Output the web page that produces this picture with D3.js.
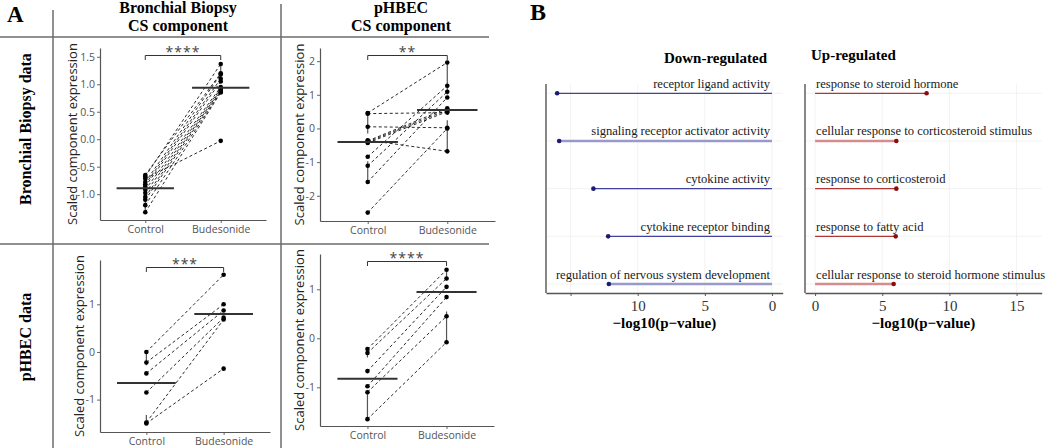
<!DOCTYPE html>
<html>
<head>
<meta charset="utf-8">
<script src="https://cdn.jsdelivr.net/npm/d3@7"></script>
<style>
  body { margin: 0; background: #fff; }
  svg { display: block; }
</style>
</head>
<body>
<script>
// ---------- data ----------
const groups = ["Control", "Budesonide"];

// panel A: paired samples, index i of control pairs with index i of budesonide
const bbBbControl = [-0.65, -0.68, -0.72, -0.78, -0.82, -0.86, -0.92, -0.98, -1.05, -1.10, -1.20, -1.33];
const bbBbBudesonide = [1.20, 1.37, -0.03, 1.18, 1.10, 1.05, 0.95, 0.92, 0.90, 0.88, 0.86, 0.85];

const bbPhControl = [0.46, 0.44, 0.05, -0.35, -0.37, -0.40, -0.43, -0.84, -1.11, -1.59, -2.50];
const bbPhBudesonide = [1.96, 0.47, 0.02, -0.68, 0.60, 0.55, 0.50, 1.27, 1.09, 0.92, 0.00];

const phBbControl = [0.00, -0.22, -0.45, -0.85, -1.48, -1.50];
const phBbBudesonide = [1.62, 1.00, 0.87, 0.72, 0.68, -0.35];

const phPhControl = [-0.22, -0.30, -0.67, -0.98, -1.10, -1.65];
const phPhBudesonide = [1.40, 1.22, 1.05, 0.84, 0.45, -0.08];

const significance = ["****", "**", "***", "****"];

const ticksBbBb = [-1.0, -0.5, 0.0, 0.5, 1.0, 1.5];
const ticksBbPh = [-2, -1, 0, 1, 2];
const ticksPhBb = [-1, 0, 1];
const ticksPhPh = [-1, 0, 1];

const columnTitles = [["Bronchial Biopsy", "CS component"], ["pHBEC", "CS component"]];
const rowTitles = ["Bronchial Biopsy data", "pHBEC data"];

// panel B: GO enrichment
const downTerms = ["receptor ligand activity", "signaling receptor activator activity",
  "cytokine activity", "cytokine receptor binding", "regulation of nervous system development"];
const downValues = [16.0, 15.85, 13.3, 12.2, 12.15];
const downWeight = [1, 2, 1, 1, 2];

const upTerms = ["response to steroid hormone", "cellular response to corticosteroid stimulus",
  "response to corticosteroid", "response to fatty acid", "cellular response to steroid hormone stimulus"];
const upValues = [8.3, 6.05, 6.05, 6.0, 5.85];
const upWeight = [1, 2, 1, 1, 2];

const bTicksDown = [15, 10, 5, 0];
const bTicksUp = [0, 5, 10, 15];

// ---------- drawing ----------
const W = 1050, H = 448;
const SERIF = "'Liberation Serif', 'Times New Roman', serif";
const SANS = "'Open Sans', 'Noto Sans', sans-serif";

const svg = d3.select("body").append("svg")
  .attr("width", W).attr("height", H);

// frame of panel A
const frame = svg.append("g").attr("stroke", "#6b6b6b").attr("stroke-width", 1.5);
frame.append("line").attr("x1", 53).attr("x2", 53).attr("y1", 10).attr("y2", H);
frame.append("line").attr("x1", 281).attr("x2", 281).attr("y1", 4).attr("y2", H);
frame.append("line").attr("x1", 0).attr("x2", 489).attr("y1", 37).attr("y2", 37);
frame.append("line").attr("x1", 0).attr("x2", 489).attr("y1", 244).attr("y2", 244);

svg.append("text").attr("x", 7).attr("y", 22)
  .style("font-family", SERIF).style("font-weight", "bold").style("font-size", "23px")
  .text("A");
svg.append("text").attr("x", 530).attr("y", 20)
  .style("font-family", SERIF).style("font-weight", "bold").style("font-size", "24px")
  .text("B");

const colCenters = [178, 401];
columnTitles.forEach((lines, i) => {
  lines.forEach((t, j) => {
    svg.append("text")
      .attr("x", colCenters[i]).attr("y", j === 0 ? 13 : 31)
      .attr("text-anchor", "middle")
      .style("font-family", SERIF).style("font-weight", "bold").style("font-size", "16px")
      .text(t);
  });
});

const rowCenters = [129, 337];
rowTitles.forEach((t, i) => {
  svg.append("text")
    .attr("transform", `translate(31,${rowCenters[i]}) rotate(-90)`)
    .attr("text-anchor", "middle")
    .style("font-family", SERIF).style("font-weight", "bold").style("font-size", "16px")
    .text(t);
});

function styleAxis(sel) {
  sel.select(".domain").attr("stroke", "#555").attr("stroke-width", 1.2);
  sel.selectAll(".tick line").attr("stroke", "#555").attr("stroke-width", 0.9);
  sel.selectAll(".tick text")
    .attr("fill", "#555").style("font-family", SANS).style("font-size", "10.5px");
}

function whiskers(values) {
  const s = values.slice().sort(d3.ascending);
  const q1 = d3.quantileSorted(s, 0.25), q3 = d3.quantileSorted(s, 0.75);
  const iqr = q3 - q1;
  const lo = d3.min(s.filter(v => v >= q1 - 1.5 * iqr));
  const hi = d3.max(s.filter(v => v <= q3 + 1.5 * iqr));
  return [[q3, hi], [q1, lo]];
}

function pairedPanel(cfg) {
  const { left, right, top, bottom, domain, ticks, fmt, ctrl, bud, stars, labelX } = cfg;
  const x = d3.scalePoint().domain(groups).range([left, right]).padding(0.6);
  const y = d3.scaleLinear().domain(domain).range([bottom, top]);
  const g = svg.append("g");

  g.append("g").attr("transform", `translate(${left},0)`)
    .call(d3.axisLeft(y).tickValues(ticks).tickFormat(fmt).tickSize(3).tickSizeOuter(0).tickPadding(2))
    .call(styleAxis);
  g.append("g").attr("transform", `translate(0,${bottom})`)
    .call(d3.axisBottom(x).tickSize(3).tickSizeOuter(0).tickPadding(3))
    .call(styleAxis);

  g.append("text")
    .attr("transform", `translate(${labelX},${(top + bottom) / 2}) rotate(-90)`)
    .attr("text-anchor", "middle")
    .style("font-family", SANS).style("font-size", "13px").attr("fill", "#222")
    .text("Scaled component expression");

  // boxplot whiskers (box itself is invisible)
  [ctrl, bud].forEach((vals, k) => {
    whiskers(vals).forEach(([a, b]) => {
      g.append("line")
        .attr("x1", x(groups[k])).attr("x2", x(groups[k]))
        .attr("y1", y(a)).attr("y2", y(b))
        .attr("stroke", "#555").attr("stroke-width", 1.2);
    });
  });

  // paired dashed lines
  g.selectAll(".pair").data(d3.range(ctrl.length)).join("line")
    .attr("x1", x(groups[0])).attr("y1", i => y(ctrl[i]))
    .attr("x2", x(groups[1])).attr("y2", i => y(bud[i]))
    .attr("stroke", "#111").attr("stroke-width", 0.9).attr("stroke-dasharray", "3,2.5");

  // points
  [ctrl, bud].forEach((vals, k) => {
    g.selectAll(null).data(vals).join("circle")
      .attr("cx", x(groups[k])).attr("cy", d => y(d)).attr("r", 2.3).attr("fill", "#000");
  });

  // median bars
  const hw = x.step() * 0.38;
  [ctrl, bud].forEach((vals, k) => {
    const m = d3.median(vals);
    g.append("line")
      .attr("x1", x(groups[k]) - hw).attr("x2", x(groups[k]) + hw)
      .attr("y1", y(m)).attr("y2", y(m))
      .attr("stroke", "#333").attr("stroke-width", 2);
  });

  // significance bracket
  const yb = top + 7.5;
  g.append("path")
    .attr("d", `M${x(groups[0])},${yb + 4.5}V${yb}H${x(groups[1])}V${yb + 4.5}`)
    .attr("fill", "none").attr("stroke", "#333").attr("stroke-width", 1);
  g.append("text")
    .attr("x", (x(groups[0]) + x(groups[1])) / 2).attr("y", yb + 1.5)
    .attr("text-anchor", "middle")
    .style("font-family", SANS).style("font-size", "14px").style("letter-spacing", "1px")
    .attr("fill", "#444")
    .text(stars);
}

const fmt1 = d => d.toFixed(1);
const fmt0 = d => d.toFixed(0);

pairedPanel({ left: 100, right: 266, top: 48, bottom: 220, domain: [-1.47, 1.66],
  ticks: ticksBbBb, fmt: fmt1, ctrl: bbBbControl, bud: bbBbBudesonide, stars: significance[0], labelX: 77 });
pairedPanel({ left: 320, right: 495, top: 48, bottom: 221, domain: [-2.75, 2.39],
  ticks: ticksBbPh, fmt: fmt0, ctrl: bbPhControl, bud: bbPhBudesonide, stars: significance[1], labelX: 304 });
pairedPanel({ left: 100, right: 270, top: 260, bottom: 432, domain: [-1.68, 1.93],
  ticks: ticksPhBb, fmt: fmt0, ctrl: phBbControl, bud: phBbBudesonide, stars: significance[2], labelX: 84 });
pairedPanel({ left: 320, right: 494, top: 254, bottom: 426, domain: [-1.79, 1.72],
  ticks: ticksPhPh, fmt: fmt0, ctrl: phPhControl, bud: phPhBudesonide, stars: significance[3], labelX: 304 });

// ---------- panel B ----------
const rowY = d3.scalePoint().domain(d3.range(5)).range([93.3, 284]);
const bTop = 84, bBottom = 293;

function lollipop(cfg) {
  const { x0, x1, domain, ticks, tickFmt, terms, values, weight, dark, light, dot, title, titleX, titleY, titleAnchor, down } = cfg;
  const x = d3.scaleLinear().domain(domain).range([x0, x1]);
  const g = svg.append("g");

  // grid
  g.selectAll(".vg").data(ticks).join("line")
    .attr("x1", d => x(d)).attr("x2", d => x(d)).attr("y1", bTop).attr("y2", bBottom)
    .attr("stroke", "#efefef").attr("stroke-width", 0.8);
  g.selectAll(".hg").data(d3.range(terms.length)).join("line")
    .attr("x1", x0).attr("x2", x1).attr("y1", i => rowY(i)).attr("y2", i => rowY(i))
    .attr("stroke", "#efefef").attr("stroke-width", 0.8);

  const w = d3.scaleOrdinal().domain([1, 2]).range([1.2, 2.6]);
  const c = d3.scaleOrdinal().domain([1, 2]).range([dark, light]);
  g.selectAll(".seg").data(d3.range(terms.length)).join("line")
    .attr("x1", x(0)).attr("x2", i => x(values[i]))
    .attr("y1", i => rowY(i)).attr("y2", i => rowY(i))
    .attr("stroke", i => c(weight[i])).attr("stroke-width", i => w(weight[i]));
  g.selectAll(".dot").data(d3.range(terms.length)).join("circle")
    .attr("cx", i => x(values[i])).attr("cy", i => rowY(i)).attr("r", 2.3).attr("fill", dot);

  g.selectAll(".lab").data(terms).join("text")
    .attr("x", down ? x(0) - 2 : x(0) + 1).attr("y", (d, i) => rowY(i) - 5.5)
    .attr("text-anchor", down ? "end" : "start")
    .style("font-family", SERIF).style("font-size", "12.6px").attr("fill", "#1a1a1a")
    .text(d => d);

  // axes
  g.append("line").attr("x1", x0).attr("x2", x0).attr("y1", bTop).attr("y2", bBottom)
    .attr("stroke", "#555").attr("stroke-width", 1.4);
  const ax = g.append("g").attr("transform", `translate(0,${bBottom})`)
    .call(d3.axisBottom(x).tickValues(ticks).tickFormat(tickFmt).tickSize(3).tickSizeOuter(0).tickPadding(4));
  ax.select(".domain").attr("stroke", "#555").attr("stroke-width", 1.4);
  ax.selectAll(".tick line").attr("stroke", "#555");
  ax.selectAll(".tick text").attr("fill", "#333")
    .style("font-family", SERIF).style("font-size", "15px");

  g.append("text").attr("x", (x0 + x1) / 2 - 0).attr("y", 328)
    .attr("text-anchor", "middle")
    .style("font-family", SERIF).style("font-weight", "bold").style("font-size", "15px")
    .text("\u2212log10(p\u2212value)");

  g.append("text").attr("x", titleX).attr("y", titleY)
    .attr("text-anchor", titleAnchor)
    .style("font-family", SERIF).style("font-weight", "bold").style("font-size", "15px")
    .text(title);
}

lollipop({ x0: 546, x1: 782.7, domain: [16.83, -0.8], ticks: bTicksDown,
  tickFmt: d => (d === 15 ? "" : d), terms: downTerms, values: downValues, weight: downWeight,
  dark: "#42429c", light: "#9a9aca", dot: "#1c1c74",
  title: "Down-regulated", titleX: 767, titleY: 63, titleAnchor: "end", down: true });
lollipop({ x0: 805, x1: 1041.7, domain: [-0.75, 16.87], ticks: bTicksUp,
  tickFmt: d => d, terms: upTerms, values: upValues, weight: upWeight,
  dark: "#b23434", light: "#d58c8c", dot: "#8a0c0c",
  title: "Up-regulated", titleX: 811, titleY: 60, titleAnchor: "start", down: false });
</script>
</body>
</html>
